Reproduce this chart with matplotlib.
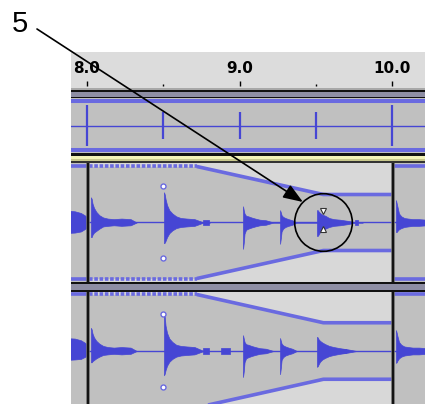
import numpy as np
import matplotlib.pyplot as plt

plt.rcParams['lines.scale_dashes'] = False

# ---- values ----
ruler_major = [8.0, 9.0, 10.0]
ruler_labels = ['8.0', '9.0', '10.0']
ruler_minor = [8.5, 9.5]

# metronome clicks in the top track
click_t = [8.0, 8.5, 9.0, 9.5, 10.0]
click_amp = [0.82, 0.57, 0.57, 0.57, 0.82]

# clip edges and gain envelope of the middle clip
clip_edges = [8.005, 10.005]
env_t = [8.013, 8.72, 9.55, 10.0]
env_v = [1.0, 1.0, 0.5, 0.5]

# envelope handles
handle_t = 8.5
handle_v = [0.66, -0.63]
shift_t = 9.55
shift_v = [0.20, -0.12]

# drum hits: onset times, and max/min per time offset (ms)
hit_t = [8.026, 8.505, 9.023, 9.266, 9.508, 10.026]
offs_ms = [0, 5, 10, 20, 35, 55, 80, 110, 150, 200, 260, 300]

tr2_top = [
    [0.45, 0.42, 0.34, 0.26, 0.19, 0.13, 0.09, 0.07, 0.06, 0.07, 0.06, 0.0],
    [0.54, 0.50, 0.42, 0.31, 0.22, 0.16, 0.11, 0.08, 0.07, 0.06, 0.0, 0.0],
    [0.29, 0.22, 0.16, 0.12, 0.11, 0.09, 0.07, 0.05, 0.04, 0.0, 0.0, 0.0],
    [0.22, 0.18, 0.13, 0.10, 0.08, 0.06, 0.04, 0.0, 0.0, 0.0, 0.0, 0.0],
    [0.22, 0.22, 0.20, 0.17, 0.14, 0.12, 0.08, 0.06, 0.05, 0.03, 0.0, 0.0],
    [0.40, 0.34, 0.28, 0.16, 0.11, 0.08, 0.07, 0.06, 0.06, 0.05, 0.05, 0.05],
]
tr2_bot = [
    [-0.26, -0.26, -0.22, -0.18, -0.15, -0.11, -0.07, -0.06, -0.05, -0.06, -0.05, 0.0],
    [-0.37, -0.36, -0.33, -0.26, -0.19, -0.14, -0.10, -0.08, -0.07, -0.06, 0.0, 0.0],
    [-0.47, -0.36, -0.20, -0.13, -0.11, -0.09, -0.07, -0.05, -0.04, 0.0, 0.0, 0.0],
    [-0.38, -0.28, -0.16, -0.11, -0.08, -0.06, -0.04, 0.0, 0.0, 0.0, 0.0, 0.0],
    [-0.24, -0.24, -0.22, -0.17, -0.14, -0.11, -0.08, -0.06, -0.05, -0.03, 0.0, 0.0],
    [-0.17, -0.17, -0.15, -0.12, -0.10, -0.08, -0.07, -0.06, -0.06, -0.05, -0.05, -0.05],
]
tr3_top = [
    [0.41, 0.38, 0.31, 0.24, 0.18, 0.13, 0.09, 0.07, 0.06, 0.07, 0.06, 0.0],
    [0.67, 0.60, 0.45, 0.32, 0.22, 0.16, 0.11, 0.09, 0.08, 0.07, 0.0, 0.0],
    [0.28, 0.22, 0.16, 0.12, 0.11, 0.09, 0.07, 0.05, 0.04, 0.0, 0.0, 0.0],
    [0.23, 0.18, 0.13, 0.10, 0.08, 0.06, 0.04, 0.0, 0.0, 0.0, 0.0, 0.0],
    [0.25, 0.24, 0.21, 0.18, 0.15, 0.12, 0.09, 0.07, 0.05, 0.03, 0.0, 0.0],
    [0.37, 0.32, 0.26, 0.16, 0.11, 0.08, 0.07, 0.06, 0.06, 0.05, 0.05, 0.05],
]
tr3_bot = [
    [-0.20, -0.20, -0.18, -0.16, -0.13, -0.10, -0.07, -0.06, -0.05, -0.06, -0.05, 0.0],
    [-0.43, -0.40, -0.34, -0.26, -0.19, -0.14, -0.10, -0.08, -0.07, -0.06, 0.0, 0.0],
    [-0.46, -0.36, -0.20, -0.13, -0.11, -0.09, -0.07, -0.05, -0.04, 0.0, 0.0, 0.0],
    [-0.41, -0.30, -0.16, -0.11, -0.08, -0.06, -0.04, 0.0, 0.0, 0.0, 0.0, 0.0],
    [-0.28, -0.27, -0.24, -0.19, -0.15, -0.12, -0.09, -0.07, -0.05, -0.03, 0.0, 0.0],
    [-0.21, -0.20, -0.17, -0.13, -0.10, -0.08, -0.07, -0.06, -0.06, -0.05, -0.05, -0.05],
]

# tail of the previous clip, left of the first edge
prev_t = [7.85, 7.92, 7.96, 7.99, 7.999]
tr2_prev_top = [0.22, 0.20, 0.17, 0.12, 0.10]
tr2_prev_bot = [-0.19, -0.18, -0.16, -0.11, -0.09]
tr3_prev_top = [0.23, 0.22, 0.19, 0.14, 0.10]
tr3_prev_bot = [-0.16, -0.15, -0.14, -0.10, -0.08]

# small blips between hits
tr2_blip_t = [(8.76, 8.80), (9.76, 9.78)]
tr2_blip_a = [0.05, 0.05]
tr3_blip_t = [(8.76, 8.80), (8.88, 8.94), (9.67, 9.70)]
tr3_blip_a = [0.06, 0.06, 0.04]

# ---- layout (pixels) ----
W, H = 425, 404
PX_PER_S = 152.5
X0 = 71
T0 = 8.0 - (87 - X0) / PX_PER_S
T1 = 8.0 + (W - 87) / PX_PER_S

WAVE = '#4646d4'
ENV = '#6a6ae0'
DARK = '#c0c0c0'
LIGHT = '#d8d8d8'


def box(x0, y0, x1, y1):
    return [x0 / W, 1 - y1 / H, (x1 - x0) / W, (y1 - y0) / H]


def bare(ax):
    for s in ax.spines.values():
        s.set_visible(False)
    ax.set_xticks([])
    ax.set_yticks([])
    ax.set_xlim(T0, T1)


fig = plt.figure(figsize=(W / 100, H / 100), dpi=100)

# window chrome
bg = fig.add_axes([0, 0, 1, 1])
bg.set_xlim(0, W)
bg.set_ylim(H, 0)
bg.axis('off')
chrome = [(88, 89.5, '#a8a8a8'), (89.5, 91.5, '#111111'), (91.5, 97, '#8e8ea4'),
          (97, 98.5, '#111111'), (152.5, 156, '#111111'), (156, 158.5, '#f2f2b8'),
          (158.5, 161, '#c8c88c'), (161, 163, '#333333'),
          (282, 283.5, '#111111'), (283.5, 290, '#8e8ea4'), (290, 292, '#111111')]
for y0, y1, c in chrome:
    bg.add_patch(plt.Rectangle((X0, y0), W - X0, y1 - y0, color=c, lw=0))

# ruler
ax_r = fig.add_axes(box(X0, 52, W, 88), facecolor='#dcdcdc')
bare(ax_r)
ax_r.set_ylim(0, 1)
ax_r.vlines(ruler_major, 0.056, 0.19, color='k', lw=1.0)
ax_r.vlines(ruler_minor, 0.056, 0.11, color='k', lw=1.0)
for t, lab in zip(ruler_major, ruler_labels):
    ax_r.text(t, 0.53, lab, ha='center', va='center', fontsize=11,
              fontweight='bold', family='DejaVu Sans')

# top (click) track
ax_t = fig.add_axes(box(X0, 98, W, 153), facecolor=DARK)
bare(ax_t)
ax_t.set_ylim(-1.12, 1.12)
ax_t.axhline(0, color=WAVE, lw=1.0)
ax_t.axhline(1, color=ENV, lw=2.9)
ax_t.axhline(-1, color=ENV, lw=2.9)
ax_t.vlines(click_t, -np.array(click_amp), click_amp, color=WAVE, lw=1.6)


def draw_track(ax, tops, bots, prev_top, prev_bot, blip_t, blip_a):
    bare(ax)
    ax.set_facecolor(LIGHT)
    # gain envelope area
    ax.axvspan(T0, clip_edges[0], color=DARK, lw=0)
    ax.axvspan(clip_edges[1], T1, color=DARK, lw=0)
    ax.fill_between(env_t, -np.array(env_v), env_v, color=DARK, lw=0)
    for s in (1, -1):
        ax.plot([T0, clip_edges[0]], [s, s], color=ENV, lw=2.6, solid_capstyle='butt')
        ax.plot([clip_edges[1], T1], [s, s], color=ENV, lw=2.6, solid_capstyle='butt')
        ax.plot(env_t[:2], [s * v for v in env_v[:2]], color=ENV, lw=2.6,
                dashes=(2.6, 1.2), dash_capstyle='butt')
        ax.plot(env_t[1:], [s * v for v in env_v[1:]], color=ENV, lw=2.6,
                solid_capstyle='butt')
    ax.axhline(0, color=WAVE, lw=1.0)
    # waveform
    for t, top, bot in zip(hit_t, tops, bots):
        x = t + np.array(offs_ms) / 1000.0
        ax.fill_between(x, bot, top, color=WAVE, lw=0.5, edgecolor=WAVE)
    ax.fill_between(prev_t, prev_bot, prev_top, color=WAVE, lw=0.5, edgecolor=WAVE)
    for (a, b), amp in zip(blip_t, blip_a):
        ax.fill_between([a, b], [-amp, -amp], [amp, amp], color=WAVE, lw=0.5)
    # clip edges
    for e in clip_edges:
        ax.axvline(e, color='#6a6a6a', lw=2.6)
        ax.axvline(e, color='#111111', lw=1.4)
    ax.plot([handle_t] * 2, handle_v, 'o', ms=3.6, mfc='white', mec=ENV, mew=1.0)


ax2 = fig.add_axes(box(X0, 163, W, 282))
ax2.set_ylim(-1.0625, 1.0625)
draw_track(ax2, tr2_top, tr2_bot, tr2_prev_top, tr2_prev_bot, tr2_blip_t, tr2_blip_a)
ax2.plot(shift_t, shift_v[0], marker='v', ms=4.5, mfc='white', mec='#333333', mew=0.8)
ax2.plot(shift_t, shift_v[1], marker='^', ms=4.5, mfc='white', mec='#333333', mew=0.8)

ax3 = fig.add_axes(box(X0, 292, W, 410))
ax3.set_ylim(-1.044, 1.044)
draw_track(ax3, tr3_top, tr3_bot, tr3_prev_top, tr3_prev_bot, tr3_blip_t, tr3_blip_a)

# callout: circle round the envelope point, arrow and number
ov = fig.add_axes([0, 0, 1, 1], zorder=10)
ov.axis('off')
ov.set_xlim(0, W)
ov.set_ylim(0, H)
circ_x, circ_y = ov.transData.inverted().transform(ax2.transData.transform((env_t[2], 0)))
ov.plot(circ_x, circ_y, 'o', ms=41.5, mfc='none', mec='k', mew=1.2)
ov.annotate('', xy=(9.416, 0.366), xycoords=ax2.transData,
            xytext=(37, H - 29), textcoords='figure pixels',
            arrowprops=dict(arrowstyle='-|>,head_length=12,head_width=4.5',
                            mutation_scale=1, color='k', lw=1.2,
                            shrinkA=0, shrinkB=0))
ov.text(20, H - 32, '5', ha='center', va='baseline', fontsize=21,
        family='Liberation Sans')

fig.savefig('out.png', dpi=100, facecolor='white')
